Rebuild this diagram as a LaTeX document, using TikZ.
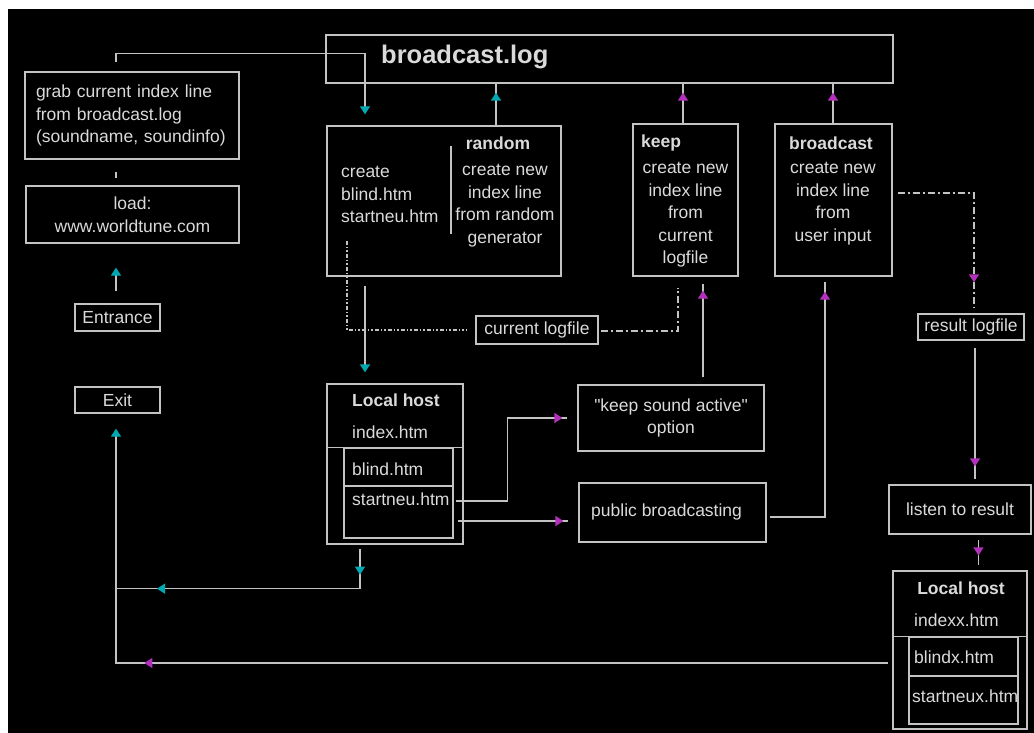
\documentclass[tikz,border=0pt]{standalone}
\usepackage{fontspec}
\setmainfont{Liberation Sans}[Ligatures=TeXOff]
\usetikzlibrary{arrows.meta,calc,decorations.markings}
\definecolor{lgray}{RGB}{195,195,195}
\definecolor{tcol}{RGB}{218,218,218}
\definecolor{tcyan}{RGB}{0,168,178}
\definecolor{tmag}{RGB}{178,48,188}
\newcommand\fsz{\fontsize{17.5}{22.5}\selectfont}
\newcommand\ctip{\arrow{Triangle[length=8pt,width=10pt,color=tcyan]}}
\newcommand\mtip{\arrow{Triangle[length=8pt,width=10pt,color=tmag]}}
\begin{document}
\begin{tikzpicture}[x=1pt,y=-1pt,
 bx/.style={draw=lgray,line width=1.3pt,inner sep=0pt,text=tcol,font=\fsz,align=center},
 txt/.style={text=tcol,inner sep=0pt,font=\fsz,align=center},
 ln/.style={draw=lgray,line width=1.3pt},
 conn/.style={draw=lgray,line width=1.3pt},
 ca/.style={-{Triangle[length=8pt,width=10pt,color=tcyan]}},
 ma/.style={-{Triangle[length=8pt,width=10pt,color=tmag]}},
 mk/.style={postaction={decorate,decoration={markings,#1}}},
 dotl/.style={dash pattern=on 4pt off 2pt on 1.5pt off 2pt on 1.5pt off 2pt},
 dashdot/.style={dash pattern=on 7pt off 3pt on 2pt off 3pt}
]
\fill[white] (0,0) rectangle (1034,733);
\fill[black] (8,9) rectangle (1034,733);
\useasboundingbox (0,0) rectangle (1034,733);

% broadcast.log
\node[bx,minimum width=567pt,minimum height=48pt] (log) at (609.5,59) {};
\node[txt,anchor=west,font=\fontsize{25.5}{30}\selectfont\bfseries] (logt) at (381,57) {broadcast.log};

% left column
\node[bx,minimum width=214pt,minimum height=87pt,text width=192pt,inner xsep=11pt,align=left] (grab) at (132,115.5) {grab current index line\\from broadcast.log\\(soundname, soundinfo)};
\node[bx,minimum width=213pt,minimum height=57pt] (load) at (132.5,214.5) {load:\\www.worldtune.com};
\node[bx,minimum width=85pt,minimum height=27pt] (entr) at (117.5,317.5) {Entrance};
\node[bx,minimum width=85pt,minimum height=26pt] (exit) at (117.5,400) {Exit};

% random box
\node[bx,minimum width=234pt,minimum height=150pt] (rnd) at (444,201) {};
\node[txt,font=\fsz\bfseries] (rndt) at (498,143) {random};
\node[txt,anchor=west,align=left] (rndl) at (341,194.5) {create\\blind.htm\\startneu.htm};
\node[txt] (rndr) at (505,205.5) {create new\\index line\\from random\\generator};
\draw[ln] ($(rnd.north)+(7,21)$) -- ++(0,88);

% keep box
\node[bx,minimum width=105pt,minimum height=152pt] (keep) at (685.5,200) {};
\node[txt,anchor=west,font=\fsz\bfseries] (keept) at (641,143) {keep};
\node[txt] (keepb) at (685.5,215) {create new\\index line\\from\\current\\logfile};

% broadcast box
\node[bx,minimum width=117pt,minimum height=152pt] (bcast) at (833.5,200) {};
\node[txt,font=\fsz\bfseries] (bcastt) at (831,143) {broadcast};
\node[txt] (bcastb) at (833,203.5) {create new\\index line\\from\\user input};

% small boxes
\node[bx,minimum width=122pt,minimum height=28pt] (curlog) at (537,330) {current logfile};
\node[bx,minimum width=106pt,minimum height=26pt] (reslog) at (971,327) {result logfile};
\node[bx,minimum width=142pt,minimum height=49pt] (listen) at (960,509.5) {listen to result};
\node[bx,minimum width=186pt,minimum height=66pt] (ksa) at (671,418) {"keep sound active"\\option};
\node[bx,minimum width=187pt,minimum height=59pt] (pub) at (672.5,512.5) {};
\node[txt,anchor=west] (pubt) at (591,512) {public broadcasting};

% Local host 1
\node[bx,minimum width=136pt,minimum height=160pt] (lh1) at (395,464) {};
\node[txt,font=\fsz\bfseries] (lh1t) at (396,400) {Local host};
\node[txt,anchor=west] (lh1i) at (352,432) {index.htm};
\draw[ln] ($(lh1.north west)+(0,64)$) -- ($(lh1.north east)+(0,64)$);
\node[bx,minimum width=109pt,minimum height=38pt] (lh1b) at (398.5,467) {};
\node[bx,minimum width=109pt,minimum height=52pt] (lh1s) at (398.5,512) {};
\node[txt,anchor=west] (lh1bt) at (352,469) {blind.htm};
\node[txt,anchor=west] (lh1st) at (352,499) {startneu.htm};

% Local host 2
\node[bx,minimum width=134pt,minimum height=158pt] (lh2) at (960,650) {};
\node[txt,font=\fsz\bfseries] (lh2t) at (961,588) {Local host};
\node[txt,anchor=west] (lh2i) at (914,620) {indexx.htm};
\draw[ln] ($(lh2.north west)+(0,66)$) -- ($(lh2.north east)+(0,66)$);
\node[bx,minimum width=109pt,minimum height=39pt] (lh2b) at (963.5,656.5) {};
\node[bx,minimum width=109pt,minimum height=48pt] (lh2s) at (963.5,700) {};
\node[txt,anchor=west] (lh2bt) at (914,657) {blindx.htm};
\node[txt,anchor=west] (lh2st) at (912,696) {startneux.htm};

% connectors
\draw[conn,ca] ($(grab.north)+(-16,-9)$) -- ++(0,-9) -| ($(rnd.north)+(-79,-11)$);
\draw[conn] ($(grab.south)+(-16,12)$) -- ($(load.north)+(-16.5,-7)$);
\draw[conn,ca] ($(entr.north)+(-1.5,-12)$) -- ($(load.south)+(-16.5,24)$);
\draw[conn,mk={mark=at position -9pt with {\ctip}}] ($(rnd.north)+(52,0)$) -- ($(log.south)+(-113.5,0)$);
\draw[conn,mk={mark=at position -9pt with {\mtip}}] ($(keep.north)+(-2.5,0)$) -- ($(log.south)+(73.5,0)$);
\draw[conn,mk={mark=at position -9pt with {\mtip}}] ($(bcast.north)+(-0.5,0)$) -- ($(log.south)+(223.5,0)$);
\draw[conn,dashdot,mk={mark=at position -25pt with {\mtip}}] ($(bcast.east)+(5,-7)$) -| ($(reslog.north)+(3,-6)$);
\draw[conn,mk={mark=at position -13pt with {\mtip}}] ($(reslog.south)+(4,7)$) -- ($(listen.north)+(15,-5)$);
\draw[conn,mk={mark=at position -10pt with {\mtip}}] ($(listen.south)+(18.5,5)$) -- ($(lh2.north)+(18.5,-5)$);
\draw[conn,mk={mark=at position -5pt with {\mtip}}] ($(lh1s.east)+(2,-11)$) -- ++(52,0) |- ($(ksa.west)+(-10,0)$);
\draw[conn,mk={mark=at position -5pt with {\mtip}}] ($(lh1s.east)+(4,9)$) -- ($(pub.west)+(-10,8.5)$);
\draw[conn,mk={mark=at position -10pt with {\mtip}}] ($(pub.east)+(3,4.5)$) -| ($(bcast.south)+(-8.5,5)$);
\draw[conn,mk={mark=at position -7pt with {\mtip}}] ($(ksa.north)+(32,-7)$) -- ($(keep.south)+(17.5,7)$);
\draw[conn,ca] ($(rnd.south)+(-79,9)$) -- ($(lh1.north)+(-30,-11)$);
\draw[conn,dotl] ($(rnd.south)+(-97,-36)$) |- ($(curlog.west)+(-8,0)$);
\draw[conn,dashdot] ($(curlog.east)+(2,1)$) -| ($(keep.south)+(-7.5,11)$);
\draw[conn,ca,mk={mark=at position 26pt with {\ctip},mark=at position 243pt with {\ctip}}] ($(lh1.south)+(-35,4)$) -- ++(0,40) -| ($(exit.south)+(-1.5,15)$);
\draw[conn,mk={mark=at position 744pt with {\mtip}}] ($(lh2.west)+(-4,13)$) -| ($(exit.south)+(-1.5,175)$);
\end{tikzpicture}
\end{document}
